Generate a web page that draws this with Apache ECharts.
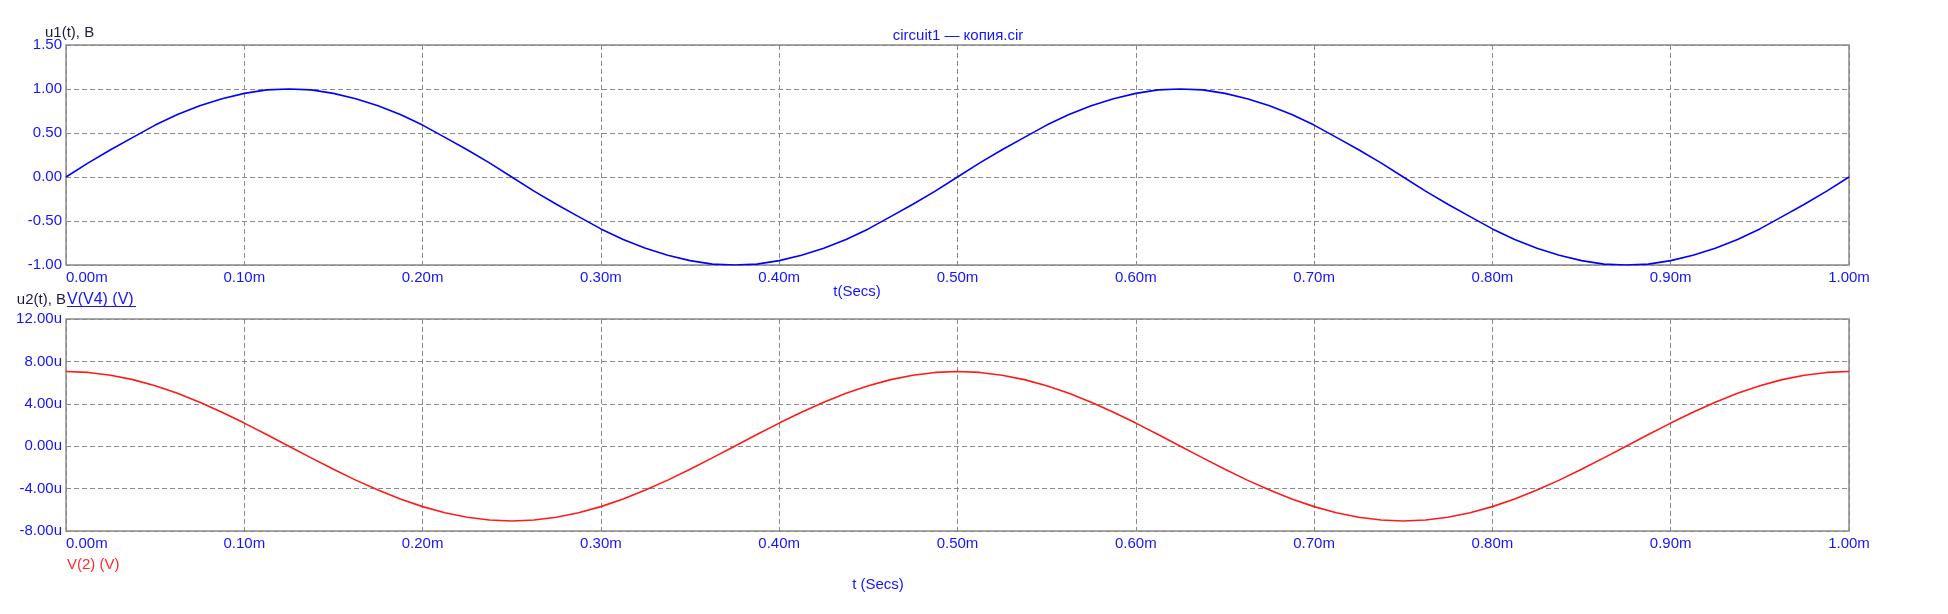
<!DOCTYPE html>
<html>
<head>
<meta charset="utf-8">
<script src="https://cdn.jsdelivr.net/npm/echarts@6/dist/echarts.min.js"></script>
<style>
  html, body { margin: 0; padding: 0; background: #ffffff; }
  #chart { width: 1948px; height: 614px; }
</style>
</head>
<body>
<div id="chart"></div>
<script>
// ---- data ----
const timeMs = [0.0000,0.0125,0.0250,0.0375,0.0500,0.0625,0.0750,0.0875,0.1000,0.1125,
                0.1250,0.1375,0.1500,0.1625,0.1750,0.1875,0.2000,0.2125,0.2250,0.2375,
                0.2500,0.2625,0.2750,0.2875,0.3000,0.3125,0.3250,0.3375,0.3500,0.3625,
                0.3750,0.3875,0.4000,0.4125,0.4250,0.4375,0.4500,0.4625,0.4750,0.4875,
                0.5000,0.5125,0.5250,0.5375,0.5500,0.5625,0.5750,0.5875,0.6000,0.6125,
                0.6250,0.6375,0.6500,0.6625,0.6750,0.6875,0.7000,0.7125,0.7250,0.7375,
                0.7500,0.7625,0.7750,0.7875,0.8000,0.8125,0.8250,0.8375,0.8500,0.8625,
                0.8750,0.8875,0.9000,0.9125,0.9250,0.9375,0.9500,0.9625,0.9750,0.9875,1.0000];
// u1(t), V  (trace V(V4))
const u1 = [0.00,0.16,0.31,0.45,0.59,0.71,0.81,0.89,0.95,0.99,
            1.00,0.99,0.95,0.89,0.81,0.71,0.59,0.45,0.31,0.16,
            0.00,-0.16,-0.31,-0.45,-0.59,-0.71,-0.81,-0.89,-0.95,-0.99,
            -1.00,-0.99,-0.95,-0.89,-0.81,-0.71,-0.59,-0.45,-0.31,-0.16,
            0.00,0.16,0.31,0.45,0.59,0.71,0.81,0.89,0.95,0.99,
            1.00,0.99,0.95,0.89,0.81,0.71,0.59,0.45,0.31,0.16,
            0.00,-0.16,-0.31,-0.45,-0.59,-0.71,-0.81,-0.89,-0.95,-0.99,
            -1.00,-0.99,-0.95,-0.89,-0.81,-0.71,-0.59,-0.45,-0.31,-0.16,0.00];
// u2(t), microvolts  (trace V(2))
const u2 = [7.05,6.96,6.70,6.28,5.70,4.99,4.14,3.20,2.18,1.10,
            0.00,-1.10,-2.18,-3.20,-4.14,-4.99,-5.70,-6.28,-6.70,-6.96,
            -7.05,-6.96,-6.70,-6.28,-5.70,-4.99,-4.14,-3.20,-2.18,-1.10,
            0.00,1.10,2.18,3.20,4.14,4.99,5.70,6.28,6.70,6.96,
            7.05,6.96,6.70,6.28,5.70,4.99,4.14,3.20,2.18,1.10,
            0.00,-1.10,-2.18,-3.20,-4.14,-4.99,-5.70,-6.28,-6.70,-6.96,
            -7.05,-6.96,-6.70,-6.28,-5.70,-4.99,-4.14,-3.20,-2.18,-1.10,
            0.00,1.10,2.18,3.20,4.14,4.99,5.70,6.28,6.70,6.96,7.05];
const titleText = 'circuit1 — копия.cir';
const topAxisName = 'u1(t), B';
const bottomAxisName = 'u2(t), B';
const topTrace = 'V(V4) (V)';
const bottomTrace = 'V(2) (V)';
const topXName = 't(Secs)';
const bottomXName = 't (Secs)';

// ---- styles ----
const FONT = "'Liberation Sans', Arial, sans-serif";
const LABEL_BLUE = '#1414ff';
const DARK = '#1c1c40';
const GRID_GRAY = '#8a8a8a';

const chart = echarts.init(document.getElementById('chart'), null, { renderer: 'canvas' });

function xAxisCfg(idx) {
  return {
    type: 'value', gridIndex: idx, min: 0, max: 1, interval: 0.1,
    axisLine: { show: false }, axisTick: { show: false },
    axisLabel: {
      color: LABEL_BLUE, fontFamily: FONT, fontSize: 15, margin: 5,
      alignMinLabel: 'left',
      formatter: v => v.toFixed(2) + 'm'
    },
    splitLine: { show: true, lineStyle: { color: GRID_GRAY, width: 1, type: [5, 3] } }
  };
}

const option = {
  animation: false,
  backgroundColor: '#ffffff',
  grid: [
    { left: 66, top: 45, width: 1783, height: 220, show: true, borderColor: GRID_GRAY, borderWidth: 1.5, backgroundColor: 'transparent' },
    { left: 66, top: 319, width: 1783, height: 212, show: true, borderColor: GRID_GRAY, borderWidth: 1.5, backgroundColor: 'transparent' }
  ],
  xAxis: [xAxisCfg(0), xAxisCfg(1)],
  yAxis: [
    {
      type: 'value', gridIndex: 0, min: -1, max: 1.5, interval: 0.5,
      axisLine: { show: false }, axisTick: { show: false },
      axisLabel: { color: LABEL_BLUE, fontFamily: FONT, fontSize: 15, margin: 4, formatter: v => v.toFixed(2) },
      splitLine: { show: true, lineStyle: { color: GRID_GRAY, width: 1, type: [5, 3] } }
    },
    {
      type: 'value', gridIndex: 1, min: -8, max: 12, interval: 4,
      axisLine: { show: false }, axisTick: { show: false },
      axisLabel: { color: LABEL_BLUE, fontFamily: FONT, fontSize: 15, margin: 4, formatter: v => v.toFixed(2) + 'u' },
      splitLine: { show: true, lineStyle: { color: GRID_GRAY, width: 1, type: [5, 3] } }
    }
  ],
  series: [
    {
      name: topTrace, type: 'line', xAxisIndex: 0, yAxisIndex: 0,
      data: timeMs.map((t, i) => [t, u1[i]]),
      showSymbol: false, smooth: false,
      lineStyle: { color: '#0000ff', width: 1.6 }
    },
    {
      name: bottomTrace, type: 'line', xAxisIndex: 1, yAxisIndex: 1,
      data: timeMs.map((t, i) => [t, u2[i]]),
      showSymbol: false, smooth: false,
      lineStyle: { color: '#ff1a1a', width: 1.6 }
    }
  ],
  graphic: [
    { type: 'text', x: 958, y: 36, style: { text: titleText, fill: LABEL_BLUE, font: '15px ' + FONT, textAlign: 'center', textVerticalAlign: 'middle' } },
    { type: 'text', x: 45, y: 33, style: { text: topAxisName, fill: DARK, font: '15px ' + FONT, textAlign: 'left', textVerticalAlign: 'middle' } },
    { type: 'text', x: 857, y: 292, style: { text: topXName, fill: LABEL_BLUE, font: '15px ' + FONT, textAlign: 'center', textVerticalAlign: 'middle' } },
    { type: 'text', x: 66, y: 300, style: { text: bottomAxisName, fill: DARK, font: '15px ' + FONT, textAlign: 'right', textVerticalAlign: 'middle' } },
    { type: 'text', x: 67, y: 300, style: { text: topTrace, fill: LABEL_BLUE, font: '16px ' + FONT, textAlign: 'left', textVerticalAlign: 'middle' } },
    { type: 'line', shape: { x1: 67, y1: 306.5, x2: 136, y2: 306.5 }, style: { stroke: LABEL_BLUE, lineWidth: 1 } },
    { type: 'text', x: 67, y: 565, style: { text: bottomTrace, fill: '#ff2a2a', font: '15px ' + FONT, textAlign: 'left', textVerticalAlign: 'middle' } },
    { type: 'text', x: 878, y: 585, style: { text: bottomXName, fill: LABEL_BLUE, font: '15px ' + FONT, textAlign: 'center', textVerticalAlign: 'middle' } }
  ]
};
chart.setOption(option);
</script>
</body>
</html>
